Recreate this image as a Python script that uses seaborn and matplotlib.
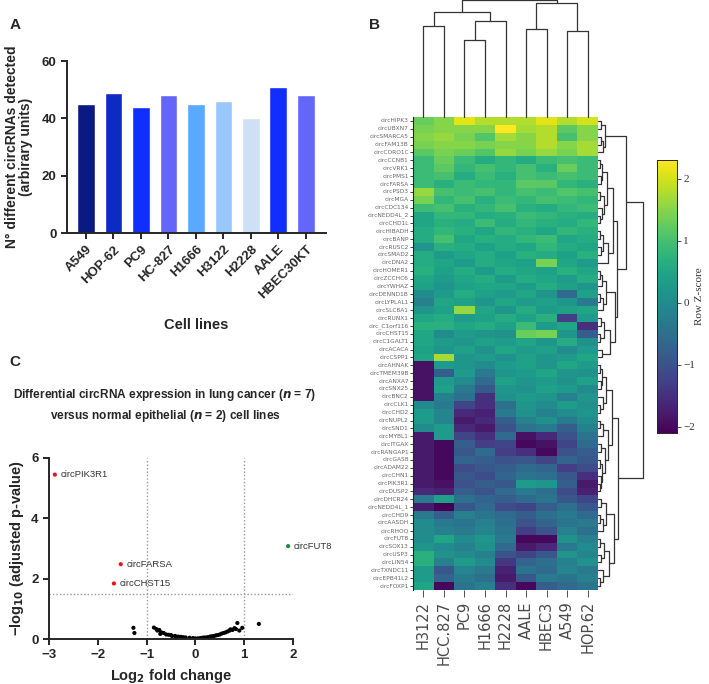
import numpy as np
import pandas as pd
import matplotlib.pyplot as plt
import seaborn as sns

sns.set_style("ticks")
plt.rcParams["font.family"] = ["Liberation Sans", "DejaVu Sans"]

W, H = 709, 684

# ---- panel A data
cell_lines = ["A549", "HOP-62", "PC9", "HC-827", "H1666", "H3122", "H2228", "AALE", "HBEC30KT"]
n_circ = [45, 49, 44, 48, 45, 46, 40, 51, 48]
bar_colors = ["#0b1a82", "#0c2ac4", "#0f2eff", "#6366f6", "#59a9ff",
              "#98c7fa", "#cee0f6", "#0f2eff", "#6366f6"]

# ---- panel C data (volcano)
sig_names = ["circPIK3R1", "circFARSA", "circCHST15", "circFUT8"]
sig_fc = [-2.88, -1.53, -1.67, 1.90]
sig_logp = [5.45, 2.48, 1.84, 3.08]
sig_dir = ["down", "down", "down", "up"]
ns_fc = [-1.27, -1.25, -0.85, -0.8, -0.78, -0.74, -0.7, -0.72, -0.65, -0.6, -0.55, -0.5,
         -0.48, -0.42, -0.4, -0.35, -0.3, -0.25, -0.2, -0.12, -0.05, 0.0, 0.05, 0.1,
         0.14, 0.18, 0.22, 0.26, 0.3, 0.34, 0.38, 0.42, 0.46, 0.5, 0.54, 0.58, 0.62,
         0.66, 0.7, 0.72, 0.76, 0.8, 0.83, 0.86, 0.9, 0.96, 1.3]
ns_logp = [0.37, 0.2, 0.38, 0.33, 0.28, 0.3, 0.22, 0.17, 0.2, 0.15, 0.14, 0.13,
           0.1, 0.1, 0.08, 0.08, 0.07, 0.06, 0.05, 0.04, 0.03, 0.02, 0.02, 0.03,
           0.04, 0.05, 0.05, 0.06, 0.08, 0.09, 0.1, 0.12, 0.13, 0.15, 0.18, 0.2, 0.22,
           0.25, 0.28, 0.32, 0.3, 0.36, 0.33, 0.53, 0.28, 0.37, 0.5]

# ---- panel B data (row z-scores)
hm_cols = ["H3122", "HCC.827", "PC9", "H1666", "H2228", "AALE", "HBEC3", "A549", "HOP.62"]
hm_rows = ["circHIPK3", "circUBXN7", "circSMARCA5", "circFAM13B", "circCORO1C", "circCCNB1",
           "circVRK1", "circPMS1", "circFARSA", "circPSD3", "circMGA", "circCDC134",
           "circNEDD4L_2", "circCHD1L", "circHIBADH", "circBANP", "circRUSC2", "circSMAD2",
           "circDNA2", "circHOMER1", "circZCCHC6", "circYWHAZ", "circDENND1B", "circLYPLAL1",
           "circSLC8A1", "circRUNX1", "circ_C1orf116", "circCHST15", "circC1GALT1", "circACACA",
           "circCSPP1", "circAHNAK", "circTMEM39B", "circANXA7", "circSNX25", "circBNC2",
           "circCLK1", "circCHD2", "circNUPL2", "circSND1", "circMYBL1", "circITGAX",
           "circRANGAP1", "circGAS8", "circADAM22", "circCHN1", "circPIK3R1", "circDUSP2",
           "circDHCR24", "circNEDD4L_1", "circCHD9", "circAASDH", "circRHOQ", "circFUT8",
           "circSOX13", "circUSP3", "circLIN54", "circTXNDC11", "circEPB41L2", "circFOXP1"]
zscores = [
    [1.3, 1.5, 2.1, 1.8, 1.8, 1.8, 2.1, 1.8, 2.0],
    [1.4, 1.5, 1.5, 1.5, 2.3, 1.7, 1.8, 1.2, 1.5],
    [1.5, 1.6, 1.4, 1.1, 1.7, 1.5, 1.8, 1.0, 1.5],
    [1.4, 1.5, 1.5, 1.4, 1.5, 1.5, 1.8, 1.5, 1.7],
    [1.2, 1.4, 1.3, 1.1, 1.6, 1.4, 1.6, 1.4, 1.7],
    [0.9, 1.3, 0.9, 0.6, 0.8, 0.6, 0.9, 1.0, 0.9],
    [0.9, 1.2, 0.8, 1.0, 0.8, 1.0, 0.7, 1.3, 0.9],
    [0.9, 1.0, 0.6, 0.9, 0.7, 1.0, 0.9, 1.0, 0.9],
    [0.9, 0.7, 0.9, 0.8, 0.8, 1.2, 1.2, 0.8, 0.7],
    [1.6, 1.0, 0.9, 1.0, 0.8, 1.0, 0.9, 1.1, 1.0],
    [1.4, 0.8, 1.0, 0.7, 0.9, 0.8, 1.0, 0.9, 0.8],
    [0.9, 1.0, 0.7, 0.8, 1.0, 0.7, 0.6, 0.8, 0.9],
    [0.5, 0.8, 0.8, 0.6, 0.7, 0.9, 0.8, 0.7, 0.6],
    [0.5, 0.7, 0.6, 0.9, 0.6, 0.8, 0.7, 0.6, 0.8],
    [0.6, 0.8, 0.7, 0.5, 0.8, 0.7, 0.5, 0.8, 0.7],
    [0.6, 1.0, 0.5, 0.7, 0.6, 0.8, 0.9, 0.5, 0.6],
    [0.2, 0.7, 0.6, 0.4, 0.6, 0.5, 0.8, 0.6, 0.5],
    [0.6, 0.3, 0.5, 0.6, 0.4, 0.7, 0.6, 0.4, 0.7],
    [0.6, 0.5, 0.3, 0.6, 0.5, 0.4, 1.4, 0.5, 0.3],
    [0.7, 0.4, 0.6, 0.3, 0.6, 0.5, 0.4, 0.7, 0.5],
    [0.5, 0.3, 0.5, 0.6, 0.3, 0.6, 0.5, 0.3, 0.6],
    [0.4, 0.2, 0.4, 0.5, 0.5, 0.3, 0.6, 0.4, 0.2],
    [0.0, 0.3, 0.6, 0.4, 0.3, 0.5, 0.2, -0.6, 0.4],
    [-0.2, 0.5, 0.4, 0.2, 0.5, 0.3, 0.4, 0.2, -0.3],
    [0.2, 0.4, 1.6, 0.5, 0.2, 0.6, 0.3, 0.4, 0.5],
    [0.5, 0.6, 0.3, 0.4, 0.6, 0.4, 0.7, -1.3, 0.3],
    [0.7, 0.7, 0.5, 0.6, 0.4, 0.9, 0.3, 0.5, -1.5],
    [0.5, 0.0, 0.3, 0.2, 0.1, 1.3, 1.4, 0.2, -0.8],
    [0.5, 0.3, 0.2, 0.4, 0.3, 0.5, 0.2, 0.6, 0.1],
    [0.4, 0.2, 0.4, 0.1, 0.5, 0.3, 0.4, 0.0, 0.3],
    [0.5, 1.7, 0.2, 0.3, 0.1, 0.4, 0.2, 0.3, 0.5],
    [-1.9, 0.3, 0.2, 0.0, 0.3, 0.4, 0.2, 0.5, 0.3],
    [-1.9, -0.8, 0.3, -0.3, 0.2, 0.3, 0.5, 0.2, 0.1],
    [-1.9, 0.3, 0.0, -0.6, 0.4, 0.2, 0.3, 0.1, 0.4],
    [-1.9, 0.4, -0.3, -0.9, 0.2, 0.1, 0.4, 0.3, 0.0],
    [-1.9, -0.2, -0.5, -1.5, 0.1, 0.3, 0.2, -0.2, 0.2],
    [0.0, -0.3, -1.2, -1.5, -0.5, 0.2, 0.0, 0.3, 0.1],
    [0.3, -0.1, -1.6, -1.7, -0.3, 0.1, -0.2, 0.0, 0.2],
    [0.3, -0.1, -1.8, -1.6, -0.8, -0.2, 0.1, -0.3, 0.0],
    [0.0, 0.3, -1.6, -1.8, -1.0, -0.4, -0.3, -0.8, -0.2],
    [-1.8, 0.3, -1.2, -1.5, -0.6, -1.9, -1.6, -1.0, -0.4],
    [-1.8, -2.0, -0.8, -1.3, -1.2, -2.0, -1.9, -1.2, -0.6],
    [-1.8, -2.0, -0.9, -0.6, -1.3, -1.5, -2.0, -1.0, -0.8],
    [-1.8, -2.0, -0.7, -0.8, -1.0, -0.9, -1.2, -0.7, -0.9],
    [-1.8, -2.0, -1.1, -0.9, -0.8, -0.6, -0.7, -1.3, -1.1],
    [-1.8, -2.0, -0.9, -1.1, -0.7, -0.4, -0.5, -0.9, -1.5],
    [-1.8, -1.9, -1.0, -0.8, -0.9, 0.3, 0.2, -0.8, -1.8],
    [-1.6, -1.7, -0.8, -1.0, -0.6, -0.3, -0.5, -1.1, -1.7],
    [-0.3, 0.4, -0.5, -0.7, -0.8, -0.6, -0.4, -0.9, -1.2],
    [-1.8, -2.1, -0.9, -0.6, -1.1, -1.2, -0.8, -0.5, -0.9],
    [-0.3, -0.8, -0.2, -0.4, -0.6, -0.8, -0.5, -0.3, -0.6],
    [0.0, -0.3, -0.4, -0.2, -0.5, -1.0, -0.7, -0.4, -0.3],
    [0.0, -0.2, -0.3, -0.1, -0.4, -1.3, -1.0, -0.2, -0.5],
    [0.0, 0.5, 0.0, 0.2, -0.3, -2.0, -2.0, 0.1, -0.2],
    [0.2, 0.0, -0.2, 0.1, -0.6, -1.8, -1.6, -0.3, 0.0],
    [0.7, 0.1, 0.0, -0.2, -1.0, -1.2, -0.9, 0.2, -0.1],
    [0.7, -0.2, 0.3, 0.0, -1.4, -0.7, -0.5, -0.2, 0.1],
    [0.3, -0.9, -0.1, -0.3, -1.7, -0.4, -0.6, -0.1, -0.3],
    [0.3, -0.7, -0.3, -0.5, -1.8, -0.9, -0.3, -0.4, -0.2],
    [0.5, -2.0, -0.4, -0.2, -1.5, -2.0, -0.8, -0.6, -0.4],
]

# dendrograms: [height, left, right], leaves are row/column indices
col_tree = [117, [105, [91, 0, 1], [96, [77, 2, 3], 4]], [114, [88, 5, 6], [86, 7, 8]]]
row_tree = [45,
            [28,
             [7, [3, 0, 1], [5, [3, 2, 3], 4]],
             [19,
              [15, [9, [4, [2, 5, 6], [3, 7, 8]], [6, [2, 9, 10], [4, 11, [2, 12, 13]]]],
               [10, [5, [2, 14, 15], [3, 16, 17]], 18]],
              [17, [8, [4, [2, 19, 20], 21], [5, [2, 22, 23], 24]],
               [12, [6, [3, 25, 26], [2, 27, 28]], [4, 29, 30]]]]],
            [20,
             [14, [8, [4, [2, 31, 32], [3, 33, 34]], [5, 35, [2, 36, 37]]],
              [10, [5, [2, 38, 39], 40], [7, [3, 41, 42], [4, [2, 43, 44], [3, 45, [2, 46, 47]]]]]],
             [16, [8, [3, 48, 49], [5, [2, 50, 51], 52]],
              [11, [6, [2, 53, 54], [3, 55, 56]], [5, 57, [2, 58, 59]]]]]]


def px_axes(fig, l, t, r, b):
    return fig.add_axes([l / W, 1 - b / H, (r - l) / W, (b - t) / H])


def draw_tree(ax, node, horizontal):
    if isinstance(node, int):
        return node + 0.5, 0.0
    h, left, right = node
    p1, h1 = draw_tree(ax, left, horizontal)
    p2, h2 = draw_tree(ax, right, horizontal)
    hs = [h1, h, h, h2]
    ps = [p1, p1, p2, p2]
    if horizontal:
        ax.plot(hs, ps, color="#333333", lw=0.9, clip_on=False)
    else:
        ax.plot(ps, hs, color="#333333", lw=0.9, clip_on=False)
    return (p1 + p2) / 2, h


fig = plt.figure(figsize=(W / 100, H / 100), dpi=100)

# ================= A: bar chart
axA = px_axes(fig, 67, 61, 326, 233)
dfA = pd.DataFrame({"line": cell_lines, "n": n_circ})
sns.barplot(data=dfA, x="line", y="n", hue="line", palette=bar_colors, dodge=False,
            width=0.65, legend=False, saturation=1, ax=axA)
axA.set_xlim(-0.69, 8.73)
axA.set_ylim(0, 60)
axA.set_yticks([0, 20, 40, 60])
axA.set_ylabel("N° different circRNAs detected\n(arbirary units)", fontsize=10,
               fontweight="bold", labelpad=6, linespacing=1.0)
axA.set_xlabel("Cell lines", fontsize=10.5, fontweight="bold", labelpad=12)
axA.tick_params(width=1.4, length=4, labelsize=9.5)
for lab in axA.get_yticklabels():
    lab.set_fontweight("bold")
plt.setp(axA.get_xticklabels(), rotation=45, ha="right", rotation_mode="anchor",
         fontweight="bold")
sns.despine(ax=axA)
for s in ["left", "bottom"]:
    axA.spines[s].set_linewidth(1.4)

# ================= C: volcano plot
axC = px_axes(fig, 49, 458, 293, 639)
dfC = pd.DataFrame({
    "fc": sig_fc + ns_fc,
    "logp": sig_logp + ns_logp,
    "grp": sig_dir + ["ns"] * len(ns_fc),
})
axC.axvline(-1, color="#9a9a9a", lw=1, ls=(0, (1, 1.5)), zorder=0)
axC.axvline(1, color="#9a9a9a", lw=1, ls=(0, (1, 1.5)), zorder=0)
axC.axhline(1.5, color="#9a9a9a", lw=1, ls=(0, (1, 1.5)), zorder=0)
sns.scatterplot(data=dfC, x="fc", y="logp", hue="grp",
                palette={"down": "#e8141b", "up": "#1f8a3f", "ns": "black"},
                s=9, linewidth=0, legend=False, ax=axC)
for name, fx, fy in zip(sig_names, sig_fc, sig_logp):
    axC.annotate(name, (fx, fy), xytext=(4, 0), textcoords="offset points",
                 va="center", fontsize=6.8, color="#333333")
axC.set_xlim(-3, 2)
axC.set_ylim(0, 6)
axC.set_xticks([-3, -2, -1, 0, 1, 2])
axC.set_yticks([0, 2, 4, 6])
axC.set_xlabel("Log$_\\mathbf{2}$ fold change", fontsize=10.5, fontweight="bold", labelpad=4)
axC.set_ylabel("\u2212log$_\\mathbf{10}$ (adjusted p-value)", fontsize=10.5, fontweight="bold",
               labelpad=4)
axC.tick_params(width=1.4, length=4, labelsize=9.5)
for lab in axC.get_xticklabels() + axC.get_yticklabels():
    lab.set_fontweight("bold")
sns.despine(ax=axC)
for s in ["left", "bottom"]:
    axC.spines[s].set_linewidth(1.4)

fig.text(165 / W, 1 - 395 / H,
         "Differential circRNA expression in lung cancer ($\\mathbfit{n}$ = 7)",
         ha="center", va="center", fontsize=8.6, fontweight="bold")
fig.text(165 / W, 1 - 416 / H,
         "versus normal epithelial ($\\mathbfit{n}$ = 2) cell lines",
         ha="center", va="center", fontsize=8.6, fontweight="bold")

# ================= B: clustered heatmap
axH = px_axes(fig, 413, 117, 598, 590)
axCD = px_axes(fig, 413, 0, 598, 117)
axRD = px_axes(fig, 598, 117, 645, 590)
axCB = px_axes(fig, 657, 160, 677, 433)

dfB = pd.DataFrame(zscores, index=hm_rows, columns=hm_cols)
sns.heatmap(dfB, cmap="viridis", vmin=-2.1, vmax=2.3, ax=axH, cbar_ax=axCB,
            xticklabels=True, yticklabels=True)
axH.tick_params(axis="y", labelsize=4.2, length=2, width=0.6, pad=1,
                labelcolor="#666666", color="#222222")
axH.tick_params(axis="x", labelsize=10.5, length=5, width=0.6, pad=3,
                labelcolor="#4a4a4a", color="#333333")
for lab in axH.get_xticklabels():
    lab.set_rotation(90)
    lab.set_va("top")
    lab.set_ha("center")
    lab.set_fontfamily("DejaVu Sans")
for lab in axH.get_yticklabels():
    lab.set_fontfamily("DejaVu Sans")
axH.set_xlabel("")
axH.set_ylabel("")
axH.spines["left"].set_visible(True)
axH.spines["left"].set_color("#222222")
axH.spines["left"].set_linewidth(0.8)

draw_tree(axCD, col_tree, horizontal=False)
axCD.set_xlim(0, 9)
axCD.set_ylim(0, 117)
axCD.axis("off")

draw_tree(axRD, row_tree, horizontal=True)
axRD.set_ylim(60, 0)
axRD.set_xlim(0, 47)
axRD.axis("off")

axCB.tick_params(labelsize=8, length=3, width=0.6, pad=1.5, colors="#333333")
axCB.set_yticks([-2, -1, 0, 1, 2])
for lab in axCB.get_yticklabels():
    lab.set_fontfamily("Liberation Serif")
axCB.set_ylabel("")
fig.text(700 / W, 1 - 296 / H, "Row Z-score", rotation=90, ha="center", va="center",
         fontsize=8, family="Liberation Serif", color="#333333")
for sp in axCB.spines.values():
    sp.set_visible(True)
    sp.set_linewidth(0.6)

# panel letters
for letter, x, y in [("A", 15, 25), ("B", 375, 25), ("C", 15, 362)]:
    fig.text(x / W, 1 - y / H, letter, fontsize=11, fontweight="bold", ha="center", va="center")

fig.savefig("out.png", dpi=100)
